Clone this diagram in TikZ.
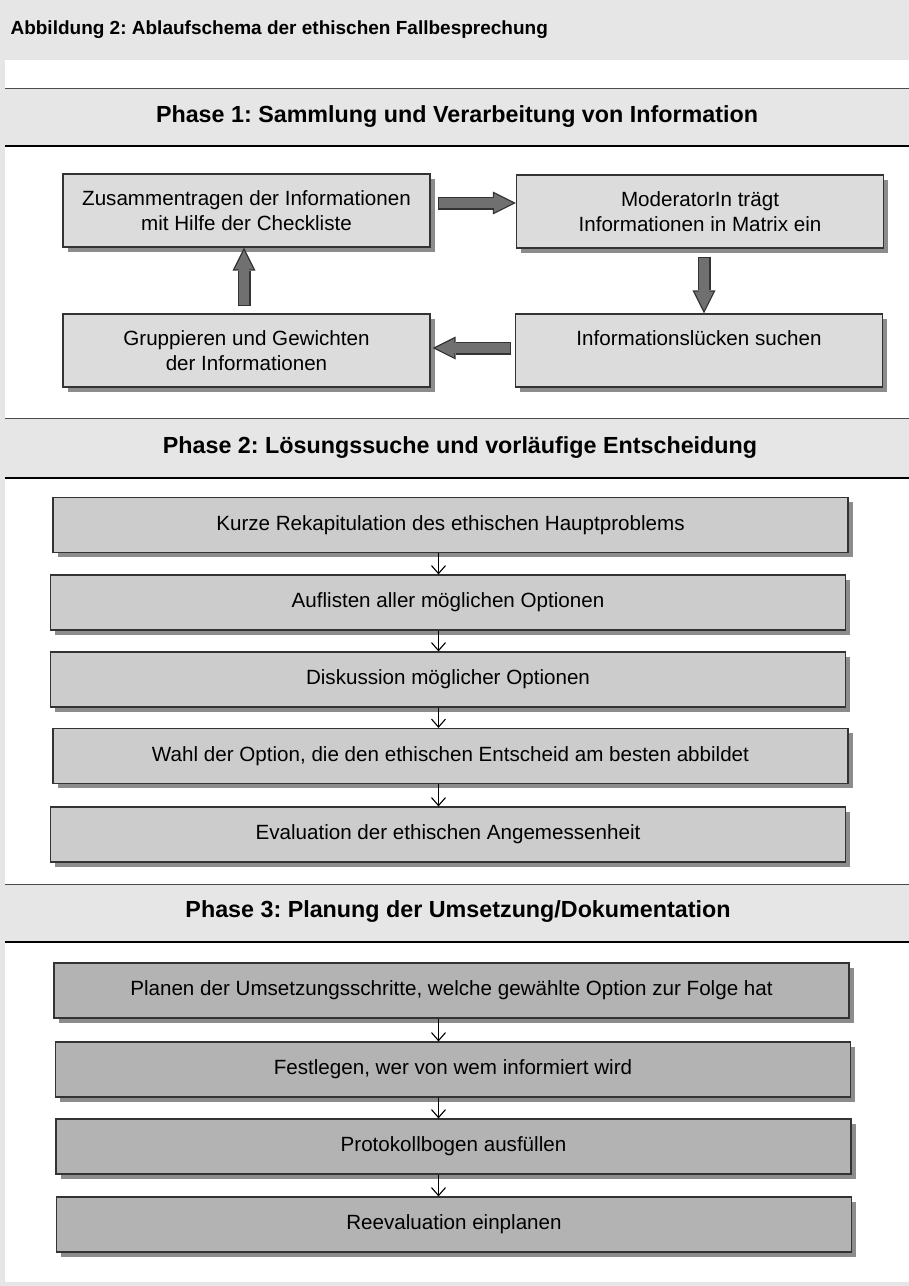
\documentclass[tikz,border=0pt]{standalone}
\usepackage{fontspec}
\setmainfont{Liberation Sans}
\frenchspacing
\usetikzlibrary{arrows.meta,shadows,calc}
\definecolor{bandgray}{HTML}{E6E6E6}
\definecolor{boxA}{HTML}{DCDCDC}
\definecolor{boxB}{HTML}{CCCCCC}
\definecolor{boxC}{HTML}{B3B3B3}
\definecolor{edge}{HTML}{333333}
\definecolor{fatfill}{HTML}{707070}
\definecolor{shadowc}{HTML}{8C8C8C}
\begin{document}
\frenchspacing
\begin{tikzpicture}[x=1pt,y=-1pt,
  box/.style={draw=edge, line width=1.2pt, inner sep=0pt, align=center,
    font=\fontsize{20.6}{24.5}\selectfont,
    drop shadow={shadow xshift=4.5pt, shadow yshift=-4.5pt, fill=shadowc, opacity=1}},
  boxone/.style={box, fill=boxA, minimum width=367pt, minimum height=73pt},
  boxtwo/.style={box, fill=boxB, minimum width=795pt, minimum height=55pt},
  boxthree/.style={box, fill=boxC, minimum width=795pt, minimum height=55pt},
  phasetitle/.style={font=\bfseries\fontsize{23.3}{27}\selectfont},
  fatouter/.style={line width=13pt, draw=edge, -{Triangle[length=23pt,width=23pt,line width=0pt]}},
  fatinner/.style={line width=10.4pt, draw=fatfill, -{Triangle[length=18.8pt,width=18.8pt,line width=0pt]}, shorten >=2.9pt, shorten <=1.3pt},
  thinarrow/.style={draw=black, line width=1.1pt, -{Straight Barb[length=8pt,width=14pt,line width=1.1pt]}},
]
\useasboundingbox (0,0) rectangle (909,1286);
% background
\fill[bandgray] (0,0) rectangle (909,1286);
\fill[white] (5,60) rectangle (909,1282);
\node[anchor=west, font=\bfseries\fontsize{19}{22}\selectfont] (title) at (7,30) {Abbildung 2: Ablaufschema der ethischen Fallbesprechung};

% phase header bands
\foreach \ya/\yb in {88/146, 418/478, 884/942}{
  \fill[bandgray] (5,\ya) rectangle (909,\yb);
  \draw[draw=black!70, line width=1pt] (5,\ya) -- (909,\ya);
  \draw[draw=black, line width=2.6pt] (5,\yb) -- (909,\yb);
}
\node[phasetitle] (ph1) at (457,117) {Phase 1: Sammlung und Verarbeitung von Information};
\node[phasetitle] (ph2) at (460,448) {Phase 2: Lösungssuche und vorläufige Entscheidung};
\node[phasetitle] (ph3) at (458,912) {Phase 3: Planung der Umsetzung/Dokumentation};

% phase 1
\node[boxone] (b1) at (246.5,210.5) {Zusammentragen der Informationen\\mit Hilfe der Checkliste};
\node[boxone] (b2) at (700,211.5) {ModeratorIn trägt\\Informationen in Matrix ein};
\node[boxone] (b3) at (246.5,350.5) {Gruppieren und Gewichten\\der Informationen};
\node[boxone] (b4) at (699,350.5) {Informationslücken suchen\\\mbox{}};

\coordinate (ra) at (0,203);
\coordinate (la) at (0,348);
\coordinate (ua) at (244,0);
\coordinate (da) at (704,0);
\foreach \s in {fatouter,fatinner}{
  \draw[\s] ($(b1.east |- ra)+(7,0)$) -- (b2.west |- ra);
  \draw[\s] ($(b2.south -| da)+(0,8)$) -- (b4.north -| da);
  \draw[\s] ($(b4.west |- la)+(-4,0)$) -- ($(b3.east |- la)+(2,0)$);
  \draw[\s] ($(b3.north -| ua)+(0,-7)$) -- (b1.south -| ua);
}

% phase 2
\node[boxtwo] (k1) at (450.5,525) {Kurze Rekapitulation des ethischen Hauptproblems};
\node[boxtwo] (k2) at (448,602.5) {Auflisten aller möglichen Optionen};
\node[boxtwo] (k3) at (448,679.5) {Diskussion möglicher Optionen};
\node[boxtwo] (k4) at (450.5,756) {Wahl der Option, die den ethischen Entscheid am besten abbildet};
\node[boxtwo] (k5) at (448,834.5) {Evaluation der ethischen Angemessenheit};

% phase 3
\node[boxthree] (p1) at (451.5,990.5) {Planen der Umsetzungsschritte, welche gewählte Option zur Folge hat};
\node[boxthree] (p2) at (453,1069.5) {Festlegen, wer von wem informiert wird};
\node[boxthree] (p3) at (453.5,1146.5) {Protokollbogen ausfüllen};
\node[boxthree] (p4) at (454,1224.5) {Reevaluation einplanen};

\coordinate (ax) at (438.5,0);
\draw[thinarrow] (k1.south -| ax) -- (k2.north -| ax);
\draw[thinarrow] (k2.south -| ax) -- (k3.north -| ax);
\draw[thinarrow] (k3.south -| ax) -- (k4.north -| ax);
\draw[thinarrow] (k4.south -| ax) -- (k5.north -| ax);
\draw[thinarrow] (p1.south -| ax) -- (p2.north -| ax);
\draw[thinarrow] (p2.south -| ax) -- (p3.north -| ax);
\draw[thinarrow] (p3.south -| ax) -- (p4.north -| ax);
\end{tikzpicture}
\end{document}
